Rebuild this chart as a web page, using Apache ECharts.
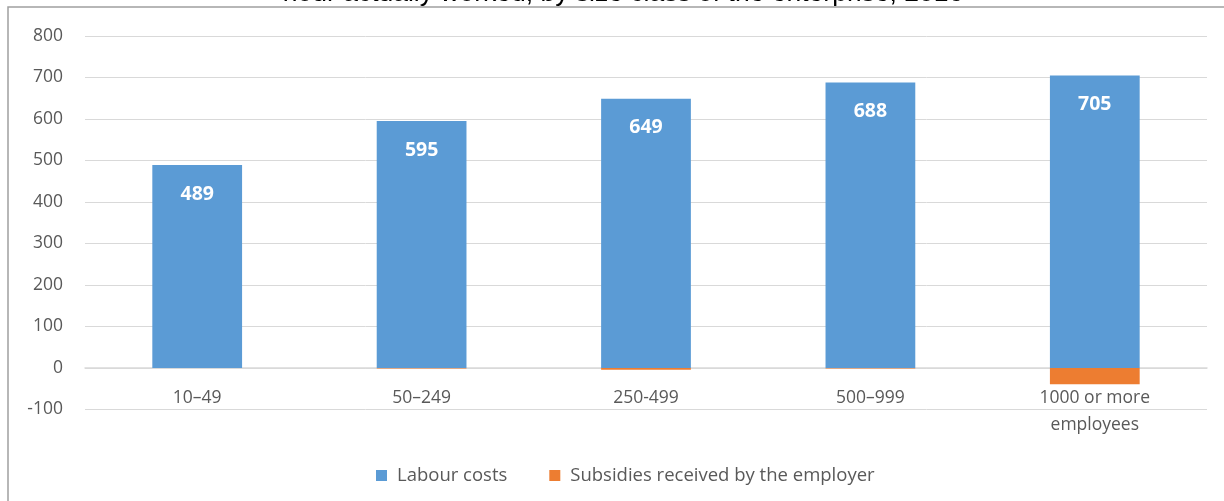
<!DOCTYPE html>
<html>
<head>
<meta charset="utf-8">
<script src="https://cdn.jsdelivr.net/npm/echarts@6/dist/echarts.min.js"></script>
<style>
  html, body { margin: 0; padding: 0; background: #fff; }
  #chart { width: 1224px; height: 501px; }
</style>
</head>
<body>
<div id="chart"></div>
<script>
const categories = ['10–49', '50–249', '250-499', '500–999', '1000 or more\nemployees']
const labourCosts = [489, 595, 649, 688, 705]
const subsidies = [0, -1, -4, -1, -39]
const yTicks = { min: -100, max: 800, interval: 100 }

const chart = echarts.init(document.getElementById('chart'), null, { renderer: 'canvas' })
const txt = '#595959'
const font = 'Open Sans'

chart.setOption({
  animation: false,
  color: ['#5b9bd5', '#ed7d31'],
  graphic: [
    {
      type: 'rect',
      shape: { x: 8, y: 7, width: 1240, height: 520 },
      style: { fill: 'none', stroke: '#a0a0a0', lineWidth: 1.5 },
      silent: true
    },
    {
      type: 'text',
      x: 623,
      y: -6,
      style: {
        text: 'hour actually worked, by size class of the enterprise, 2016',
        fontFamily: 'Liberation Sans',
        fontSize: 26.5,
        fill: '#000',
        align: 'center',
        verticalAlign: 'middle'
      },
      silent: true
    }
  ],
  grid: { left: 85, right: 17, top: 36, bottom: 91.5 },
  legend: {
    top: 461,
    left: 371,
    icon: 'rect',
    itemWidth: 11,
    itemHeight: 11,
    itemGap: 42,
    textStyle: { color: txt, fontFamily: font, fontSize: 18.5, padding: [0, 0, 0, 5] },
    data: ['Labour costs', 'Subsidies received by the employer']
  },
  xAxis: {
    type: 'category',
    data: categories,
    axisLine: { onZero: true, lineStyle: { color: '#d9d9d9', width: 1.5 } },
    axisTick: { show: false },
    axisLabel: {
      color: txt,
      fontFamily: font,
      fontSize: 17.5,
      margin: -25,
      lineHeight: 27
    }
  },
  yAxis: {
    type: 'value',
    min: yTicks.min,
    max: yTicks.max,
    interval: yTicks.interval,
    axisLine: { show: false },
    axisTick: { show: false },
    splitLine: { lineStyle: { color: '#d9d9d9', width: 1 } },
    axisLabel: { color: txt, fontFamily: font, fontSize: 17.5, margin: 22 }
  },
  series: [
    {
      name: 'Labour costs',
      type: 'bar',
      stack: 'total',
      barWidth: '40%',
      data: labourCosts,
      label: {
        show: true,
        position: 'insideTop',
        distance: 19,
        color: '#fff',
        fontWeight: 'bold',
        fontFamily: font,
        fontSize: 19.5
      }
    },
    {
      name: 'Subsidies received by the employer',
      type: 'bar',
      stack: 'total',
      barWidth: '40%',
      data: subsidies
    }
  ]
})
</script>
</body>
</html>
